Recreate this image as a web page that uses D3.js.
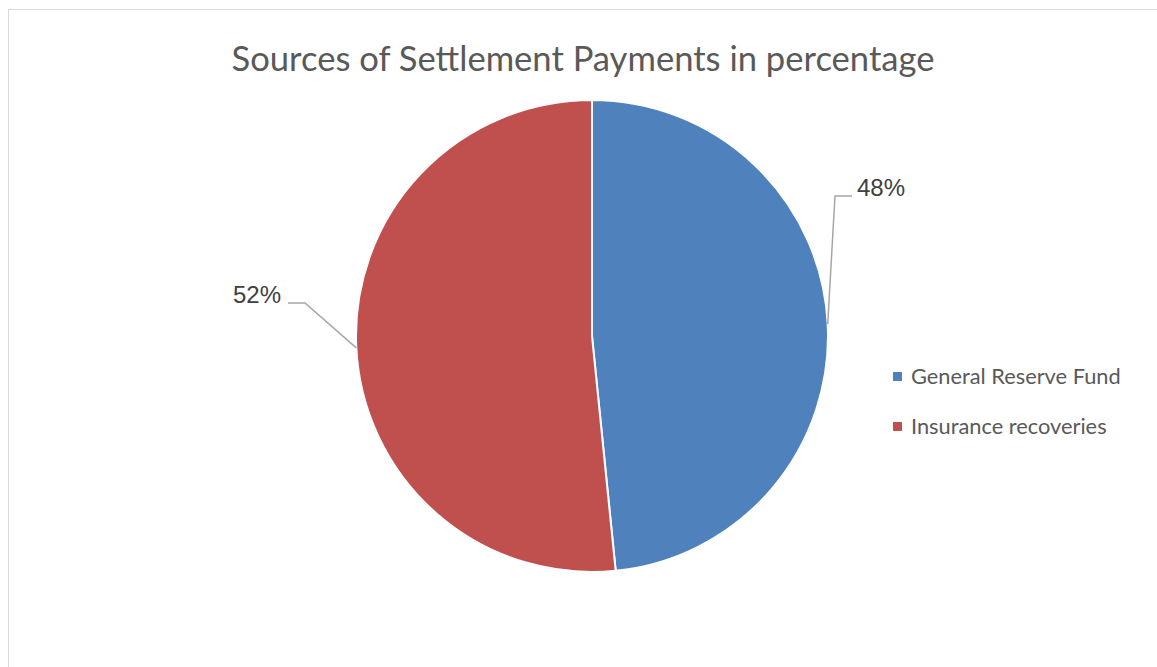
<!DOCTYPE html>
<meta charset="utf-8">
<style>
body { margin: 0; background: #fff; }
.title { font: 34.6px Lato, "Open Sans", sans-serif; fill: #595959; }
.legend text { font: 21.8px Lato, "Open Sans", sans-serif; fill: #595959; }
.label { font: 24px "Liberation Sans", Arial, sans-serif; fill: #404040; }
</style>
<svg width="1157" height="667"></svg>
<script src="https://d3js.org/d3.v7.min.js"></script>
<script>

var sources = ["General Reserve Fund", "Insurance recoveries"];
var shares = [48.4, 51.6];
var colors = ["#4F81BD", "#C0504D"];

var svg = d3.select("svg"),
    cx = 592, cy = 336, radius = 236;

// chart area border (runs past the right and bottom edges)
svg.append("rect")
    .attr("x", 8.5).attr("y", 9.5)
    .attr("width", 1200).attr("height", 700)
    .attr("fill", "none")
    .attr("stroke", "#d9d9d9");

svg.append("text")
    .attr("class", "title")
    .attr("x", 583)
    .attr("y", 71)
    .attr("text-anchor", "middle")
    .text("Sources of Settlement Payments in percentage");

var data = sources.map(function(s, i) { return {name: s, value: shares[i], color: colors[i]}; });

var pie = d3.pie().sort(null).value(function(d) { return d.value; });
var arc = d3.arc().innerRadius(0).outerRadius(radius);

var g = svg.append("g").attr("transform", "translate(" + cx + "," + cy + ")");

var arcs = pie(data);

g.selectAll("path")
  .data(arcs)
  .enter().append("path")
    .attr("d", arc)
    .attr("fill", function(d) { return d.data.color; })
    .attr("stroke", "#fff")
    .attr("stroke-width", 2);

// data labels with leader lines
var labelPos = [
  {elbow: [243, -140], end: [260, -140], text: [265, -140], anchor: "start"},
  {elbow: [-287, -33], end: [-304, -33], text: [-311, -33], anchor: "end"}
];

arcs.forEach(function(d, i) {
  var p = labelPos[i];
  var mid = (d.startAngle + d.endAngle) / 2;
  var edge = [Math.sin(mid) * radius, -Math.cos(mid) * radius];
  g.append("polyline")
      .attr("points", [edge, p.elbow, p.end].map(function(q) { return q.join(","); }).join(" "))
      .attr("fill", "none")
      .attr("stroke", "#a6a6a6")
      .attr("stroke-width", 1.5);
  g.append("text")
      .attr("class", "label")
      .attr("x", p.text[0])
      .attr("y", p.text[1])
      .attr("text-anchor", p.anchor)
      .text(Math.round(d.data.value) + "%");
});

var legend = svg.append("g").attr("class", "legend")
    .selectAll("g")
    .data(data)
    .enter().append("g")
    .attr("transform", function(d, i) { return "translate(893," + (372 + i * 50) + ")"; });

legend.append("rect")
    .attr("width", 9).attr("height", 9)
    .attr("fill", function(d) { return d.color; });

legend.append("text")
    .attr("x", 18)
    .attr("y", 12)
    .text(function(d) { return d.name; });

</script>
